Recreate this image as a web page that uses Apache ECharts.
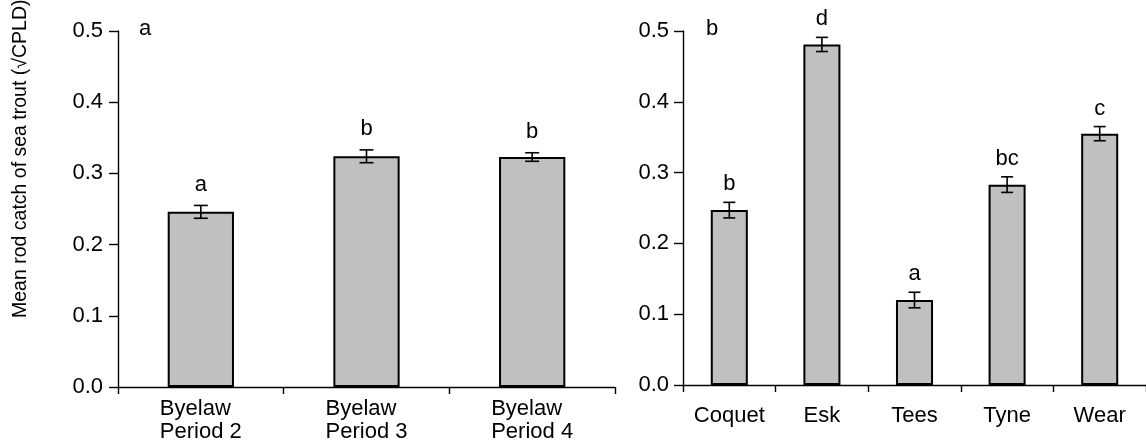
<!DOCTYPE html>
<html>
<head>
<meta charset="utf-8">
<script src="https://cdn.jsdelivr.net/npm/echarts@6/dist/echarts.min.js"></script>
<style>
html,body{margin:0;padding:0;background:#fff;}
#chart{width:1146px;height:446px;}
</style>
</head>
<body>
<div id="chart"></div>
<script>
// ---- data ----
const periodCategories = ['Byelaw\nPeriod 2', 'Byelaw\nPeriod 3', 'Byelaw\nPeriod 4'];
const periodMeans = [0.246, 0.324, 0.323];
const periodErrors = [0.009, 0.009, 0.006];
const periodLetters = ['a', 'b', 'b'];

const riverCategories = ['Coquet', 'Esk', 'Tees', 'Tyne', 'Wear'];
const riverMeans = [0.247, 0.481, 0.120, 0.283, 0.355];
const riverErrors = [0.011, 0.010, 0.011, 0.011, 0.010];
const riverLetters = ['b', 'd', 'a', 'bc', 'c'];

const yTicks = [0, 0.1, 0.2, 0.3, 0.4, 0.5];
const yTitle = 'Mean rod catch of sea trout (\u221ACPLD)';
const panelLabels = ['a', 'b'];

// ---- chart ----
const FONT = '"Liberation Sans", Arial, sans-serif';
const FS = 22;
const chart = echarts.init(document.getElementById('chart'), null, {renderer: 'canvas'});

function yAxisCfg(gridIndex, margin) {
  return {
    type: 'value', gridIndex: gridIndex,
    min: yTicks[0], max: yTicks[yTicks.length - 1], interval: 0.1,
    axisLine: {show: true, lineStyle: {color: '#000', width: 1.4}},
    axisTick: {show: true, length: 9, lineStyle: {color: '#000', width: 1.4}},
    splitLine: {show: false},
    axisLabel: {color: '#000', fontSize: FS, fontFamily: FONT, margin: margin,
      formatter: v => v.toFixed(1)}
  };
}
function xAxisCfg(gridIndex, cats, margin) {
  return {
    type: 'category', gridIndex: gridIndex, data: cats,
    axisLine: {show: true, lineStyle: {color: '#000', width: 1.4}},
    axisTick: {show: true, length: 7, lineStyle: {color: '#000', width: 1.4}},
    axisLabel: {color: '#000', fontSize: FS, fontFamily: FONT, margin: margin, lineHeight: 23, interval: 0,
      formatter: v => v.split('\n').map(s => '{l|' + s + '}').join('\n'),
      rich: {l: {align: 'left', fontSize: FS, fontFamily: FONT, color: '#000', lineHeight: 23}}}
  };
}
function errSeries(idx, means, errs, letters, capHalf, gap) {
  return {
    type: 'custom', xAxisIndex: idx, yAxisIndex: idx, z: 5,
    data: means.map((m, i) => [i, m, errs[i]]),
    encode: {x: 0, y: 1},
    renderItem: function (params, api) {
      const i = api.value(0), v = api.value(1), e = api.value(2);
      const top = api.coord([i, v + e]);
      const bot = api.coord([i, v - e]);
      const x = top[0];
      const st = {stroke: '#000', lineWidth: 1.6};
      return {type: 'group', children: [
        {type: 'line', shape: {x1: x, y1: top[1], x2: x, y2: bot[1]}, style: st},
        {type: 'line', shape: {x1: x - capHalf, y1: top[1], x2: x + capHalf, y2: top[1]}, style: st},
        {type: 'line', shape: {x1: x - capHalf, y1: bot[1], x2: x + capHalf, y2: bot[1]}, style: st},
        {type: 'text', style: {text: letters[params.dataIndex], x: x, y: top[1] - gap,
          align: 'center', verticalAlign: 'bottom', fontSize: FS, fontFamily: FONT, fill: '#000'}}
      ]};
    }
  };
}
function barSeries(idx, means) {
  return {
    type: 'bar', xAxisIndex: idx, yAxisIndex: idx, data: means, barWidth: '40%',
    itemStyle: {color: '#c0c0c0', borderColor: '#000', borderWidth: 2},
    silent: true
  };
}

const option = {
  animation: false,
  backgroundColor: '#fff',
  grid: [
    {left: 118, right: 531, top: 31, bottom: 59},
    {left: 683, right: -10, top: 31, bottom: 61}
  ],
  xAxis: [xAxisCfg(0, periodCategories, 10), xAxisCfg(1, riverCategories, 19)],
  yAxis: [yAxisCfg(0, 15), yAxisCfg(1, 14)],
  series: [
    barSeries(0, periodMeans),
    barSeries(1, riverMeans),
    errSeries(0, periodMeans, periodErrors, periodLetters, 7, 10),
    errSeries(1, riverMeans, riverErrors, riverLetters, 6, 7)
  ],
  graphic: [
    {type: 'text', rotation: Math.PI / 2, z: 10, x: 11, y: 318,
      style: {text: yTitle, fontSize: 19.5, fontFamily: FONT, fill: '#000'}},
    {type: 'text', left: 139, top: 18, style: {text: panelLabels[0], fontSize: FS, fontFamily: FONT, fill: '#000'}},
    {type: 'text', left: 706, top: 18, style: {text: panelLabels[1], fontSize: FS, fontFamily: FONT, fill: '#000'}}
  ]
};
chart.setOption(option);
</script>
</body>
</html>
